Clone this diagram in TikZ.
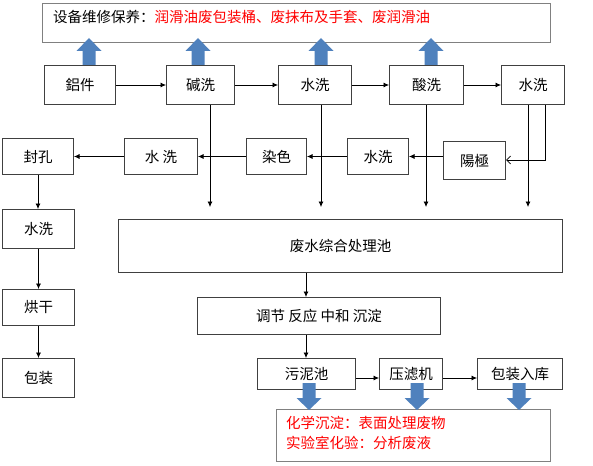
\documentclass[tikz,border=0pt]{standalone}
\usepackage{fontspec}
\setmainfont{Noto Sans CJK SC}
\usetikzlibrary{arrows.meta}
\definecolor{blu}{HTML}{4F81BD}
\definecolor{bd}{HTML}{404040}
\begin{document}
\begin{tikzpicture}[x=1pt,y=-1pt,
  txt/.style={font=\fontsize{14.5}{16}\selectfont},
  box/.style={draw=bd,line width=1pt,fill=white,inner sep=0pt,anchor=north west,txt},
  gbox/.style={draw=gray,line width=0.9pt,fill=white,inner sep=0pt,anchor=north west},
  ar/.style={-{Latex[length=5.5pt,width=5pt]},line width=0.7pt},
  oar/.style={-{Straight Barb[length=4pt,width=8pt]},line width=0.7pt},
  uparr/.pic={\fill[blu] (-6.5,0) -- (-6.5,-14) -- (-12.5,-14) -- (0,-27) -- (12.5,-14) -- (6.5,-14) -- (6.5,0) -- cycle;},
  downarr/.pic={\fill[blu] (-6.5,0) -- (-6.5,15) -- (-12.5,15) -- (0,27) -- (12.5,15) -- (6.5,15) -- (6.5,0) -- cycle;}
]
\useasboundingbox (0,0) rectangle (593,465);
\fill[white] (0,0) rectangle (593,465);

% top box
\node[gbox,minimum width=508pt,minimum height=39pt] (top) at (42,3) {};
\node[txt,anchor=west,inner sep=0pt] (toptext) at (53,17) {设备维修保养：\textcolor{red}{润滑油废包装桶、废抹布及手套、废润滑油}};

% row 1
\node[box,minimum width=71pt,minimum height=39pt] (r1a) at (44,65) {鋁件};
\node[box,minimum width=68pt,minimum height=39pt] (r1b) at (166,65) {碱洗};
\node[box,minimum width=73pt,minimum height=39pt] (r1c) at (278,65) {水洗};
\node[box,minimum width=74pt,minimum height=39pt] (r1d) at (389,65) {酸洗};
\node[box,minimum width=63pt,minimum height=39pt] (r1e) at (501,65) {水洗};

% row 2
\node[box,minimum width=71pt,minimum height=36pt] (r2a) at (2,138) {封孔};
\node[box,minimum width=73pt,minimum height=36pt] (r2b) at (124,138) {水 洗};
\node[box,minimum width=60pt,minimum height=36pt] (r2c) at (246,138) {染色};
\node[box,minimum width=61pt,minimum height=36pt] (r2d) at (347,138) {水洗};
\node[box,minimum width=62pt,minimum height=38pt] (r2e) at (443,141) {陽極};

% left column
\node[box,minimum width=72pt,minimum height=39pt] (c1) at (2,209) {水洗};
\node[box,minimum width=72pt,minimum height=36pt] (c2) at (2,289) {烘干};
\node[box,minimum width=72pt,minimum height=39pt] (c3) at (2,358) {包装};

% treatment
\node[box,minimum width=444pt,minimum height=53pt] (fs) at (118,219) {废水综合处理池};
\node[box,minimum width=243pt,minimum height=37pt] (tj) at (197,297) {调节 反应 中和 沉淀};
\node[box,minimum width=98pt,minimum height=31pt] (wn) at (257,358) {污泥池};
\node[box,minimum width=63pt,minimum height=31pt] (yl) at (379,358) {压滤机};
\node[box,minimum width=85pt,minimum height=31pt] (bz) at (477,358) {包装入库};

% bottom box
\node[gbox,minimum width=274pt,minimum height=52pt] (bot) at (276,409) {};
\node[anchor=west,inner sep=0pt,align=left,text=red,font=\fontsize{14.5}{20}\selectfont] (bottext) at (286,433) {化学沉淀：表面处理废物\\实验室化验：分析废液};

% row 1 arrows
\draw[ar] (r1a) -- (r1b);
\draw[ar] (r1b) -- (r1c);
\draw[ar] (r1c) -- (r1d);
\draw[ar] (r1d) -- (r1e);

% row 2 arrows
\draw[ar] (r2e.west |- r2d.east) -- (r2d.east);
\draw[ar] (r2d) -- (r2c);
\draw[ar] (r2c) -- (r2b);
\draw[ar] (r2b) -- (r2a);

% rinse to anodize
\coordinate (k1) at (545,160);
\draw[oar] (r1e.south -| k1) -- (k1) -- (r2e.east |- k1);

% vertical drains
\coordinate (t1) at (210,207);
\coordinate (t2) at (321,207);
\coordinate (t3) at (426,207);
\coordinate (t4) at (528,207);
\draw[ar] (r1b.south -| t1) -- (t1);
\draw[ar] (r1c.south -| t2) -- (t2);
\draw[ar] (r1d.south -| t3) -- (t3);
\draw[ar] (r1e.south -| t4) -- (t4);

% left column arrows
\draw[ar] (r2a.south) -- (r2a.south |- c1.north);
\draw[ar] (c1) -- (c2);
\draw[ar] (c2) -- (c3);

% treatment arrows
\coordinate (v1) at (306,0);
\draw[ar] (fs.south -| v1) -- (tj.north -| v1);
\draw[ar] (tj.south -| v1) -- (wn.north -| v1);
\coordinate (h1) at (0,378);
\draw[ar] (wn.east |- h1) -- (yl.west |- h1);
\draw[ar] (yl.east |- h1) -- (bz.west |- h1);

% blue arrows
\pic at (89,65) {uparr};
\pic at (198,65) {uparr};
\pic at (321,65) {uparr};
\pic at (431,65) {uparr};
\pic at (309,383) {downarr};
\pic at (417,383) {downarr};
\pic at (519,383) {downarr};
\end{tikzpicture}
\end{document}
